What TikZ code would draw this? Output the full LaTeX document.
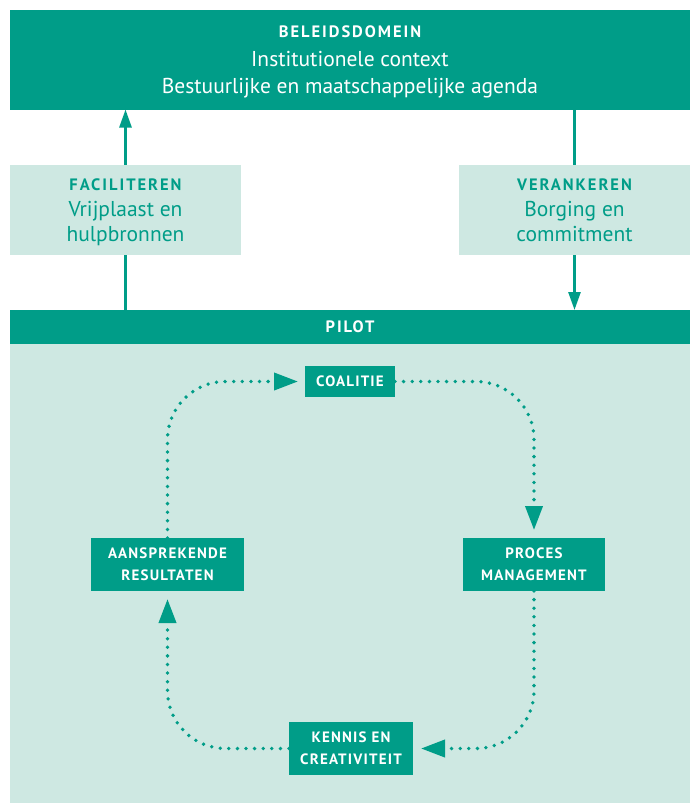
\documentclass[tikz,border=0pt]{standalone}
\usepackage{fontspec}
\setmainfont{PT Sans}
\newfontfamily\headfont[LetterSpace=12]{PT Sans}
\newfontfamily\loopfont[LetterSpace=8]{PT Sans}
\usetikzlibrary{arrows.meta}
\definecolor{tealD}{RGB}{0,157,136}
\definecolor{tealL}{RGB}{206,232,226}
\pgfdeclarelayer{bg}
\pgfsetlayers{bg,main}
\begin{document}
\begin{tikzpicture}[x=1pt,y=-1pt,
  darkbox/.style={fill=tealD, draw=none, inner sep=0pt, outer sep=0pt, text=white, align=center,
    font=\loopfont\bfseries\fontsize{15}{22}\selectfont},
  lightbox/.style={fill=tealL, draw=none, inner sep=0pt, outer sep=0pt},
  capslbl/.style={inner sep=0pt, anchor=base, font=\headfont\bfseries\fontsize{16.5}{18}\selectfont},
  bodylbl/.style={inner sep=0pt, anchor=base, font=\fontsize{21.5}{24}\selectfont},
  dotline/.style={draw=tealD, line width=3.8pt, dash pattern=on 0pt off 8.6pt, line cap=round,
    -{Triangle[length=24pt,width=17pt]}},
  solidline/.style={draw=tealD, line width=2.6pt, -{Triangle[length=18pt,width=12pt]}}
]
\useasboundingbox (0,0) rectangle (690,804);
% top box
\node[darkbox, minimum width=680pt, minimum height=100pt] (top) at (350,59.5) {};
\node[capslbl, text=white] (t1) at (350,37) {BELEIDSDOMEIN};
\node[bodylbl, text=white] (t2) at (350,66.7) {Institutionele context};
\node[bodylbl, text=white] (t3) at (350,93.3) {Bestuurlijke en maatschappelijke agenda};
% pilot
\node[darkbox, minimum width=680pt, minimum height=34pt] (pilot) at (350,327) {};
\node[capslbl, text=white] (p1) at (350,332.3) {PILOT};
\node[lightbox, minimum width=680pt, minimum height=459pt] (area) at (350,573.5) {};
% side boxes
\node[lightbox, minimum width=231pt, minimum height=90pt] (fac) at (125.5,209.5) {};
\node[capslbl, text=tealD] (f1) at (125.5,190.7) {FACILITEREN};
\node[bodylbl, text=tealD] (f2) at (125.5,216) {Vrijplaast en};
\node[bodylbl, text=tealD] (f3) at (125.5,241.7) {hulpbronnen};
\node[lightbox, minimum width=231pt, minimum height=90pt] (ver) at (574.5,209.5) {};
\node[capslbl, text=tealD] (v1) at (574.5,190.7) {VERANKEREN};
\node[bodylbl, text=tealD] (v2) at (574.5,216) {Borging en};
\node[bodylbl, text=tealD] (v3) at (574.5,241.7) {commitment};
\begin{pgfonlayer}{bg}
\draw[solidline] (fac.center |- pilot.north) -- (fac.center |- top.south);
\draw[solidline] (ver.center |- top.south) -- (ver.center |- pilot.north);
\end{pgfonlayer}
% loop boxes
\node[darkbox, minimum width=90pt, minimum height=31pt] (coa) at (350,381.5) {COALITIE};
\node[darkbox, minimum width=153pt, minimum height=53pt] (aan) at (167.5,564.5) {AANSPREKENDE\\RESULTATEN};
\node[darkbox, minimum width=142pt, minimum height=53pt] (proc) at (534,564.5) {PROCES\\MANAGEMENT};
\node[darkbox, minimum width=124pt, minimum height=53pt] (ken) at (351,748.5) {KENNIS EN\\CREATIVITEIT};
% loop connectors
\draw[dotline, rounded corners=58pt] (aan.north) |- ([xshift=-7pt]coa.west);
\draw[dotline, rounded corners=58pt] (coa.east) -| ([yshift=8pt]proc.north);
\draw[dotline, rounded corners=58pt] (proc.south) |- ([xshift=8pt]ken.east);
\draw[dotline, rounded corners=58pt] (ken.west) -| ([yshift=-8pt]aan.south);
\end{tikzpicture}
\end{document}
